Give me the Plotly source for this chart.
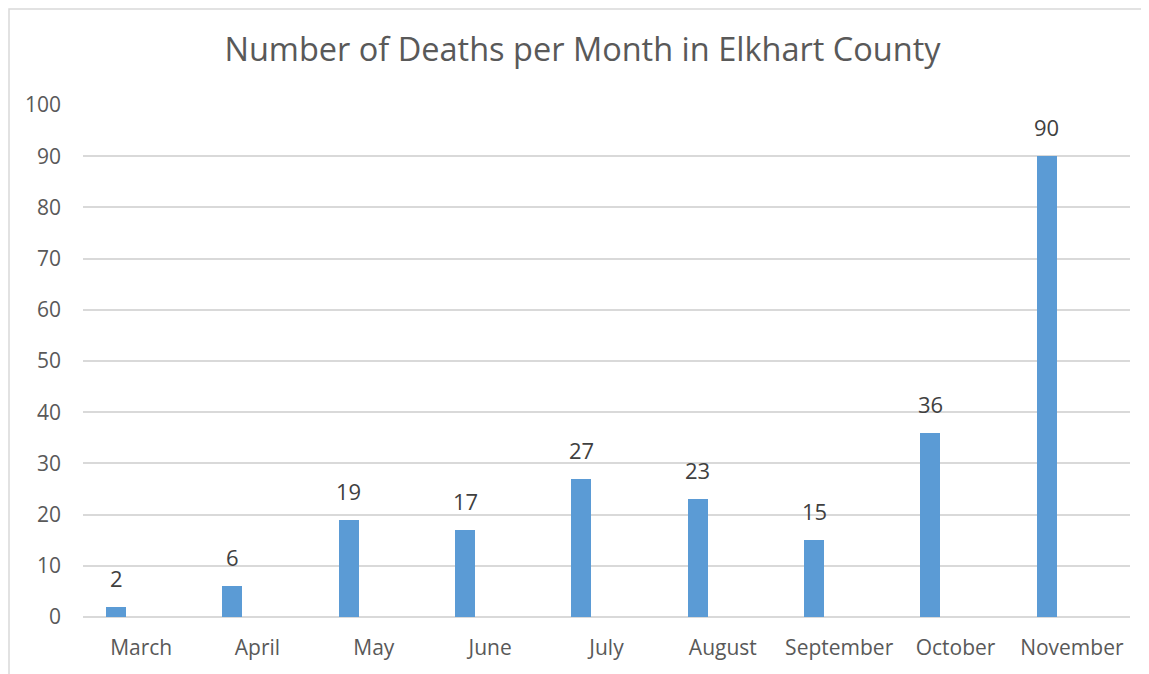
import plotly.graph_objects as go

months = ["March", "April", "May", "June", "July", "August", "September", "October", "November"]
deaths = [2, 6, 19, 17, 27, 23, 15, 36, 90]
y_ticks = [0, 10, 20, 30, 40, 50, 60, 70, 80, 90, 100]

# page body has an 8px margin, so figure coords = screen coords - 8
W, H = 1149, 674
L, R, T, B = 75, 27, 97, 65
pw, ph = W - L - R, H - T - B

FONT = "Open Sans"
fig = go.Figure()
fig.add_trace(go.Bar(
    x=months, y=deaths,
    marker=dict(color="#5b9bd5", line=dict(width=0)),
    width=0.172, offset=-0.302,
    hoverinfo="x+y",
))

for m, v in zip(months, deaths):
    fig.add_annotation(x=m, y=v, text=str(v), showarrow=False,
                       xanchor="center", yanchor="bottom", xshift=-25, yshift=12,
                       font=dict(family=FONT, size=22, color="#404040"))

fig.update_layout(
    width=W, height=H,
    margin=dict(l=L, r=R, t=T, b=B, pad=0),
    paper_bgcolor="white", plot_bgcolor="white",
    showlegend=False,
    title=dict(text="Number of Deaths per Month in Elkhart County",
               x=0.5, xanchor="center", y=1 - 42 / H, yanchor="middle",
               font=dict(family=FONT, size=32.5, color="#595959")),
    xaxis=dict(showgrid=False, showline=False, ticks="", zeroline=False,
               tickfont=dict(family=FONT, size=21, color="#595959"),
               ticklabelstandoff=16),
    yaxis=dict(range=[0, 100], tickvals=y_ticks, showgrid=True, gridcolor="#d9d9d9",
               gridwidth=1.6, zeroline=True, zerolinecolor="#d9d9d9", zerolinewidth=1.6,
               showline=False, ticks="",
               tickfont=dict(family=FONT, size=21, color="#595959"),
               ticklabelstandoff=21),
    bargap=0,
)

# chart-area border (left and top edges visible)
fig.add_shape(type="rect", xref="paper", yref="paper",
              x0=(1 - L) / pw, x1=(W + 20 - L) / pw,
              y0=-(H + 20 - T - ph) / ph, y1=(T + ph - 1) / ph,
              line=dict(color="#d9d9d9", width=1.5), fillcolor="rgba(0,0,0,0)", layer="below")

fig.write_html("out.html")
